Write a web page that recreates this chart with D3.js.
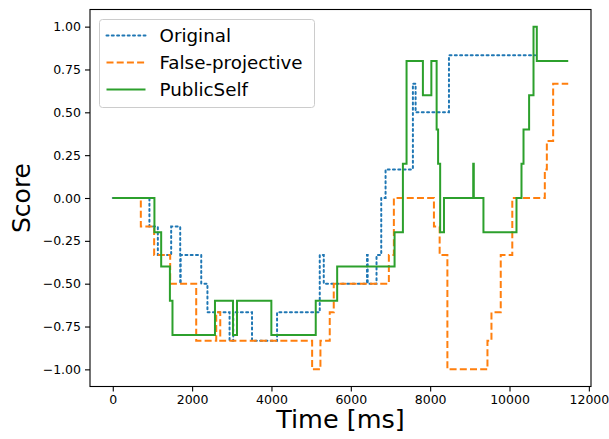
<!DOCTYPE html>
<html>
<head>
<meta charset="utf-8">
<script src="https://cdn.jsdelivr.net/npm/d3@7"></script>
<style>
  body { margin: 0; background: #fff; }
  svg { font-family: "DejaVu Sans", sans-serif; }
</style>
</head>
<body>
<svg id="chart" width="609" height="439"></svg>
<script>
// step change points (time in ms, score)
var originalTime  = [0, 924, 1136, 1472, 1700, 1712, 2230, 2386, 2944, 3037, 3510, 4141, 5217, 5318, 6408, 6425, 6648, 6767, 6876, 7565, 7633, 8474, 10645];
var originalScore = [0, -0.167, -0.333, -0.167, -0.5, -0.333, -0.5, -0.667, -0.833, -0.667, -0.833, -0.667, -0.333, -0.5, -0.333, -0.5, -0.333, 0, 0.167, 0.667, 0.5, 0.833, 0.833];

var falseProjTime  = [0, 707, 1043, 1447, 2103, 2608, 2709, 5025, 5234, 5469, 5570, 6959, 7085, 8095, 8239, 8434, 9444, 9545, 9779, 10070, 10890, 10941, 11100, 11480];
var falseProjScore = [0, -0.167, -0.333, -0.5, -0.833, -0.667, -0.833, -1, -0.833, -0.667, -0.5, -0.333, 0, -0.167, -0.333, -1, -0.833, -0.667, -0.333, 0, 0.167, 0.333, 0.667, 0.667];

var publicSelfTime  = [0, 1050, 1220, 1440, 1505, 2576, 3030, 3131, 3997, 5116, 5656, 7103, 7313, 7405, 7817, 8030, 8163, 8200, 8252, 8348, 9085, 9100, 9343, 10176, 10302, 10353, 10494, 10605, 10688, 11480];
var publicSelfScore = [0, -0.2, -0.4, -0.6, -0.8, -0.6, -0.8, -0.6, -0.8, -0.6, -0.4, -0.2, 0.2, 0.8, 0.6, 0.8, 0.4, 0.2, -0.2, 0, 0.2, 0, -0.2, 0, 0.2, 0.4, 0.6, 1.0, 0.8, 0.8];

var seriesNames = ["Original", "False-projective", "PublicSelf"];
var xTicks = [0, 2000, 4000, 6000, 8000, 10000, 12000];
var yTicks = [-1, -0.75, -0.5, -0.25, 0, 0.25, 0.5, 0.75, 1];

var margin = {top: 9.5, right: 18, bottom: 52.5, left: 90};
var width = 609 - margin.left - margin.right;
var height = 439 - margin.top - margin.bottom;

var svg = d3.select("#chart");
var g = svg.append("g").attr("transform", "translate(" + margin.left + "," + margin.top + ")");

// matplotlib style 5% padding around the data
var tMax = d3.max([d3.max(originalTime), d3.max(falseProjTime), d3.max(publicSelfTime)]);
var x = d3.scaleLinear().domain([-0.05 * tMax, 1.05 * tMax]).range([0, width]);
var y = d3.scaleLinear().domain([-1.1, 1.1]).range([height, 0]);

function toPoints(times, scores) {
  return times.map(function (t, i) { return [t, scores[i]]; });
}

var series = [
  {name: seriesNames[0], points: toPoints(originalTime, originalScore), color: "#1f77b4", dash: "2,3.3", cap: "round"},
  {name: seriesNames[1], points: toPoints(falseProjTime, falseProjScore), color: "#ff7f0e", dash: "7,3.2", cap: "butt"},
  {name: seriesNames[2], points: toPoints(publicSelfTime, publicSelfScore), color: "#2ca02c", dash: null, cap: "butt"}
];

var line = d3.line()
  .x(function (d) { return x(d[0]); })
  .y(function (d) { return y(d[1]); })
  .curve(d3.curveStepAfter);

g.selectAll("path.series")
  .data(series)
  .enter()
  .append("path")
  .attr("class", "series")
  .attr("d", function (d) { return line(d.points); })
  .attr("fill", "none")
  .attr("stroke", function (d) { return d.color; })
  .attr("stroke-width", 2)
  .attr("stroke-dasharray", function (d) { return d.dash; })
  .attr("stroke-linecap", function (d) { return d.cap; })
  .attr("stroke-linejoin", "miter");

// axes
var xAxis = g.append("g")
  .attr("transform", "translate(0," + height + ")")
  .call(d3.axisBottom(x).tickValues(xTicks).tickFormat(d3.format("d")).tickSize(5).tickPadding(4).tickSizeOuter(0));
var yAxis = g.append("g")
  .call(d3.axisLeft(y).tickValues(yTicks).tickFormat(d3.format(".2f")).tickSize(5).tickPadding(4).tickSizeOuter(0));

[xAxis, yAxis].forEach(function (ax) {
  ax.select(".domain").remove();
  ax.selectAll(".tick line").attr("stroke", "#000").attr("stroke-width", 1.1);
  ax.selectAll(".tick text").attr("font-size", 12.5).attr("fill", "#000").attr("font-family", "DejaVu Sans");
});

// frame
g.append("rect")
  .attr("x", 0).attr("y", 0)
  .attr("width", width).attr("height", height)
  .attr("fill", "none")
  .attr("stroke", "#000")
  .attr("stroke-width", 1.1);

// axis labels
svg.append("text")
  .attr("x", margin.left + width / 2)
  .attr("y", 428)
  .attr("text-anchor", "middle")
  .attr("font-size", 25.5)
  .text("Time [ms]");
svg.append("text")
  .attr("transform", "translate(30," + (margin.top + height / 2) + ") rotate(-90)")
  .attr("text-anchor", "middle")
  .attr("font-size", 25)
  .text("Score");

// legend
var legend = g.append("g").attr("transform", "translate(9.5,10)");
legend.append("rect")
  .attr("width", 215).attr("height", 88)
  .attr("rx", 3).attr("ry", 3)
  .attr("fill", "#fff").attr("fill-opacity", 0.8)
  .attr("stroke", "#ccc").attr("stroke-width", 1);

var rows = legend.selectAll("g.row")
  .data(series)
  .enter()
  .append("g")
  .attr("class", "row")
  .attr("transform", function (d, i) { return "translate(0," + (16 + i * 27) + ")"; });
rows.append("line")
  .attr("x1", 7).attr("x2", 46)
  .attr("stroke", function (d) { return d.color; })
  .attr("stroke-width", 2)
  .attr("stroke-dasharray", function (d) { return d.dash; })
  .attr("stroke-linecap", function (d) { return d.cap; });
rows.append("text")
  .attr("x", 60)
  .attr("dy", "0.36em")
  .attr("font-size", 18.3)
  .text(function (d) { return d.name; });
</script>
</body>
</html>
